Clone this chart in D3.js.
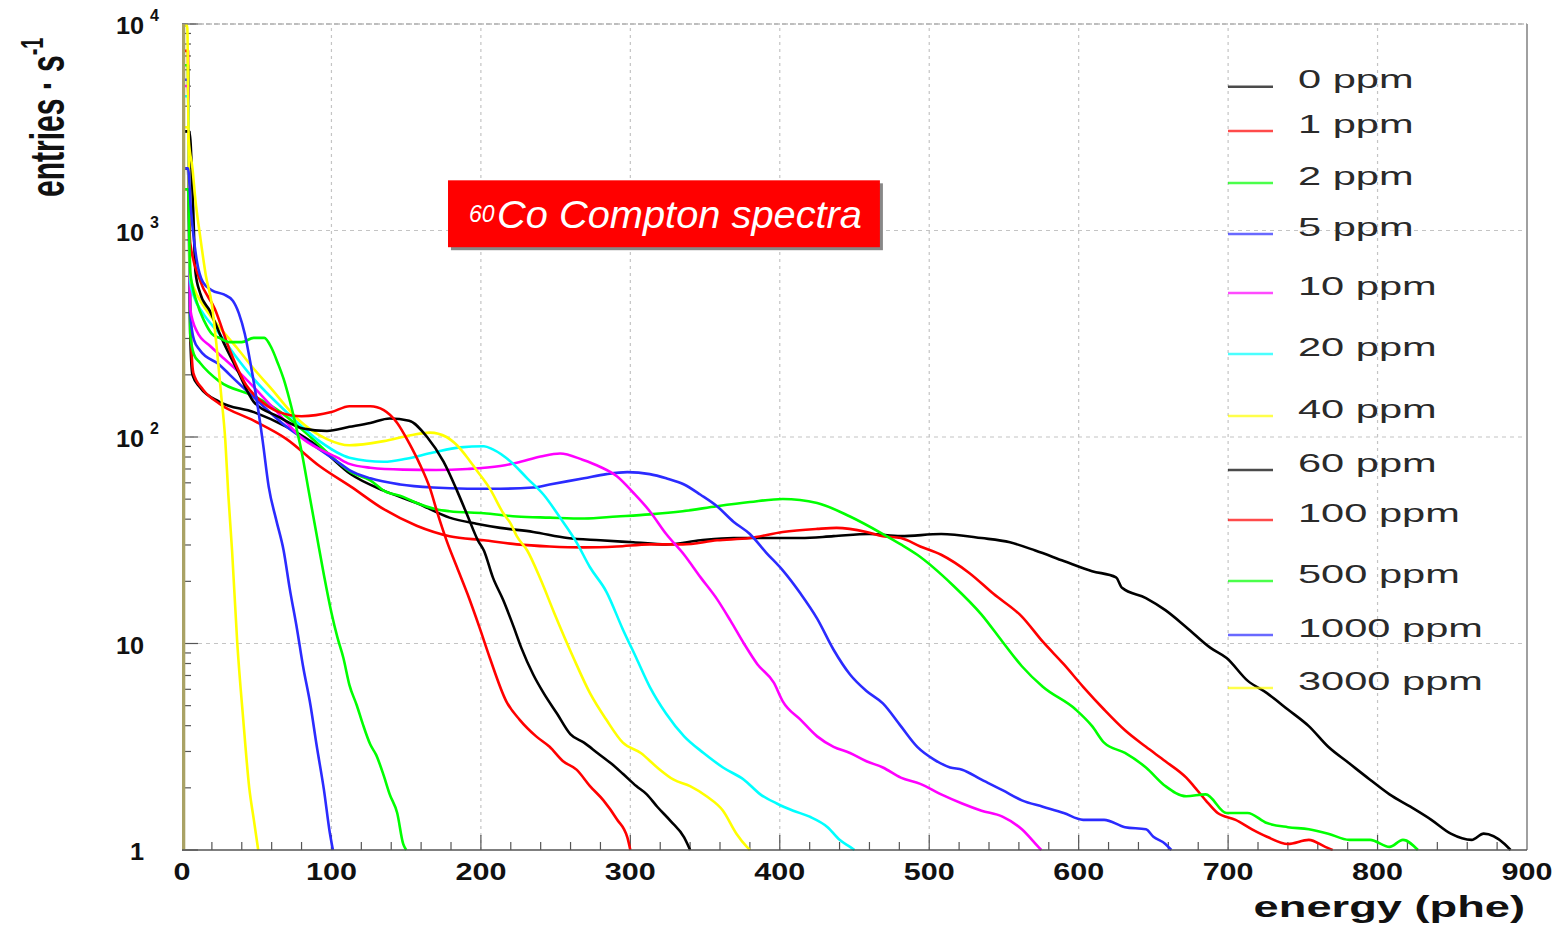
<!DOCTYPE html>
<html><head><meta charset="utf-8">
<script src="https://cdn.jsdelivr.net/npm/d3@7"></script>
<style>
html,body{margin:0;padding:0;background:#fff;}
svg{display:block;}
text{font-family:"Liberation Sans",Arial,sans-serif;}
</style></head>
<body>
<svg id="chart" width="1558" height="929"></svg>
<script>
// ---------------- DATA ----------------
const seriesNames = ["0 ppm","1 ppm","2 ppm","5 ppm","10 ppm","20 ppm","40 ppm","60 ppm","100 ppm","500 ppm","1000 ppm","3000 ppm"];

const ppm0 = [[1.5,1995],[4,1995],[5.5,316],[7,200],[12,174],[25,148],[48,132],[70,112],[92,89],[113,66],[135,55],[157,47.9],[179,40.7],[197,38],[213,36.3],[235,34.7],[258,32.4],[280,31.6],[302,30.9],[324,30.2],[347,31.6],[369,32.4],[391,32.4],[414,32.4],[436,33.1],[460,33.9],[481,33.1],[508,33.9],[535,32.4],[554,30.9],[571,28.2],[590,25.1],[609,22.4],[625,20.9],[629,18.6],[645,16.6],[658,14.5],[672,12.0],[688,9.55],[699,8.51],[713,6.61],[726,5.75],[740,4.79],[754,3.98],[767,3.16],[781,2.63],[795,2.19],[808,1.86],[822,1.62],[836,1.40],[849,1.20],[863,1.12],[871,1.20],[885,1.07],[889,1.0]];
const ppm1 = [[1.5,7413],[4,7413],[5.5,398],[7.6,204],[14,170],[25,145],[48,120],[70,97.7],[92,72.4],[113,57.5],[135,44.7],[157,37.2],[179,33.1],[202,31.6],[224,30.2],[246,29.5],[269,29.2],[291,29.5],[313,30.2],[335,30.2],[358,31.6],[380,32.4],[402,34.7],[425,35.9],[438,36.3],[458,34.7],[469,33.1],[481,32.4],[494,29.5],[508,26.9],[527,21.9],[543,17.4],[562,13.5],[576,10.2],[590,7.94],[603,6.17],[617,4.79],[631,3.80],[645,3.16],[658,2.69],[672,2.24],[677,2.04],[685,1.74],[693,1.51],[705,1.40],[716,1.26],[726,1.16],[740,1.07],[754,1.12],[765,1.035],[770,1.0]];
const ppm2 = [[1.5,6310],[4,6310],[5.5,316],[8,251],[12,229],[25,186],[48,158],[66,132],[86,100],[104,75.9],[113,67.6],[126,61.7],[135,55],[148,51.3],[157,47.9],[170,44.7],[179,43.7],[202,42.7],[224,41.2],[246,40.7],[269,40.3],[291,41.2],[313,42.2],[335,43.7],[358,46.2],[380,48.4],[402,50.1],[425,47.9],[447,41.2],[469,33.9],[481,30.2],[492,26.9],[516,19.1],[535,13.8],[549,10.2],[562,7.76],[576,6.17],[598,4.79],[609,3.98],[617,3.31],[631,2.95],[645,2.51],[658,2.04],[672,1.82],[685,1.86],[699,1.51],[713,1.51],[726,1.35],[740,1.29],[754,1.26],[767,1.20],[781,1.12],[795,1.12],[808,1.035],[817,1.12],[827,1.0]];
const ppm5 = [[1.5,5370],[4,5370],[5.5,398],[8,295],[12,263],[25,224],[32,200],[50,151],[70,112],[90,89.1],[104,75.9],[112,69.2],[126,63.1],[146,58.9],[168,56.9],[191,56.2],[213,56.2],[235,56.9],[246,58.9],[269,63.1],[284,66.1],[298,67.6],[313,66.1],[324,63.1],[336,58.9],[347,52.5],[358,46.2],[369,38.9],[380,33.9],[391,27.5],[402,22.6],[414,17.4],[425,13.2],[436,9.33],[447,7.08],[458,5.89],[469,5.13],[481,3.98],[492,3.16],[503,2.75],[514,2.51],[522,2.45],[535,2.19],[549,1.95],[562,1.74],[576,1.62],[590,1.51],[603,1.40],[617,1.40],[631,1.29],[645,1.26],[650,1.16],[658,1.07],[662,1.0]];
const ppm10 = [[1.5,5012],[4,5012],[5.5,417],[10,324],[19,275],[25,251],[40,200],[60,141],[81,97.7],[104,79.4],[112,74.1],[126,71],[148,69.5],[170,69.2],[191,70.0],[213,72.4],[224,75.0],[240,80.4],[253,83.2],[268,77.6],[280,71.6],[291,64.6],[302,53.7],[313,43.7],[324,33.9],[336,26.9],[347,20.9],[358,16.4],[367,12.9],[376,10],[385,7.94],[396,6.46],[402,5.25],[414,4.27],[425,3.55],[436,3.16],[447,2.95],[458,2.69],[469,2.51],[481,2.24],[494,2.09],[508,1.86],[522,1.68],[535,1.55],[549,1.45],[562,1.26],[573,1.035],[575,1.0]];
const ppm20 = [[1.5,4467],[4,4467],[5.5,562],[8,479],[14,398],[25,316],[35,251],[48,191],[70,132],[92,95.5],[112,79.4],[135,75.9],[150,78.5],[168,84.1],[186,89.1],[202,90.2],[208,87.1],[220,75.9],[231,63.1],[242,52.5],[253,40.7],[264,30.9],[273,23.4],[284,17.8],[295,11.7],[304,8.51],[313,6.17],[324,4.57],[336,3.55],[349,2.95],[362,2.51],[376,2.19],[387,1.86],[398,1.68],[409,1.55],[420,1.45],[432,1.29],[440,1.12],[447,1.035],[450,1.0]];
const ppm40 = [[1.5,3162],[4,3162],[5.5,600],[8,525],[14,437],[23,355],[37,269],[48,214],[59,174],[77,123],[97,97.7],[112,91.2],[135,95.5],[153,102],[166,105],[177,100],[184,91.2],[191,79.4],[197,69.2],[206,56.2],[215,42.7],[220,38],[224,33.1],[231,28.2],[240,20.4],[249,14.1],[262,8.51],[273,5.75],[284,4.27],[295,3.31],[307,2.95],[318,2.51],[329,2.19],[340,2.04],[351,1.82],[362,1.55],[371,1.20],[378,1.035],[380,1.0]];
const ppm60 = [[1.5,3020],[5,3020],[7.5,1259],[9,631],[12,501],[18.7,407],[27.7,288],[36.6,214],[48,148],[64,126],[81,110],[97,107],[112,112],[126,117],[139,123],[152,120],[164,100],[175,75.9],[184,55],[191,41.7],[198,31.6],[202,28.2],[208,20.9],[215,16.2],[222,12],[227,9.55],[235,7.08],[242,5.75],[251,4.57],[260,3.63],[269,3.31],[278,2.95],[287,2.63],[295,2.34],[304,2.04],[311,1.86],[318,1.62],[327,1.38],[336,1.15],[340,1.0]];
const ppm100 = [[1.5,1585],[4,1585],[5.5,871],[12,575],[22,417],[32,263],[43,178],[52,151],[65,132],[80,126],[100,132],[112,141],[126,141],[135,135],[144,117],[152,93.3],[159,74.1],[166,56.2],[171,42.7],[177,31.6],[184,23.4],[191,17.4],[199,12],[206,8.51],[217,5.25],[226,4.27],[237,3.55],[246,3.16],[255,2.69],[264,2.45],[273,2.04],[282,1.74],[291,1.41],[298,1.15],[300,1.0]];
const ppm500 = [[1.5,1585],[4,1585],[5.5,631],[10,447],[15,363],[20,316],[25,302],[32,288],[40,288],[48,302],[55,302],[60,269],[64,229],[68,191],[72,151],[76,115],[80,85.1],[85,53.7],[90,33.9],[95,21.4],[100,14.1],[104,10.7],[108,8.51],[112,6.31],[117,5.01],[121,4.07],[126,3.24],[130,2.88],[135,2.29],[139,1.86],[144,1.51],[148,1.07],[150,1.0]];
const ppm1000 = [[1.5,2000],[4,2000],[6,1259],[10,708],[14,562],[20,513],[28,490],[34,457],[38,398],[42,316],[46,224],[50,151],[54,95.5],[58,57.5],[63,39.8],[68,28.2],[72,18.6],[77,11.7],[81,7.76],[86,5.01],[90,3.24],[95,1.95],[99,1.20],[101,1.0]];
const ppm3000 = [[1.5,9800],[3.5,9800],[4.5,2754],[7,2000],[9,1400],[12,955],[16,603],[20,437],[23,282],[26,166],[29,95.5],[31,52.5],[33.5,28.2],[37,10],[41,4.27],[45,2.0],[48,1.41],[51,1.0]];

// first (pedestal) bin shared by all spectra: [lowEdge, highEdge, value]
const pedestalBin = [0, 2.2, 10000];

const xTickValues = [0,100,200,300,400,500,600,700,800,900];
const yTickValues = [1,10,100,1000,10000];
const yTickBase = ["1","10","10","10","10"];
const yTickExp = ["","","2","3","4"];

// ---------------- STYLE / LAYOUT ----------------
const seriesData = [ppm0,ppm1,ppm2,ppm5,ppm10,ppm20,ppm40,ppm60,ppm100,ppm500,ppm1000,ppm3000];
const seriesColors = ["#000000","#ff0000","#00ff00","#2b2bff","#ff00ff","#00ffff","#ffff00","#000000","#ff0000","#00ff00","#2b2bff","#ffff00"];
const legendRowY = [86.7,131,183,234,293,354,416,470,520,581,635,688];

const svg = d3.select("#chart");
const x = d3.scaleLinear().domain([0,900]).range([182,1527]);
const y = d3.scaleLog().domain([1,10000]).range([850,24]);

// grid
const grid = svg.append("g");
grid.selectAll("line.vg").data(xTickValues.filter(v=>v>0&&v<900)).join("line")
  .attr("x1",d=>x(d)).attr("x2",d=>x(d)).attr("y1",y(1)).attr("y2",y(10000))
  .attr("stroke","#c4c4c4").attr("stroke-width",1.2).attr("stroke-dasharray","3,4");
grid.selectAll("line.hg").data(yTickValues.filter(v=>v>1)).join("line")
  .attr("x1",x(0)).attr("x2",x(900)).attr("y1",d=>y(d)).attr("y2",d=>y(d))
  .attr("stroke","#c4c4c4").attr("stroke-width",1.2).attr("stroke-dasharray","4,4");

// frame
svg.append("line").attr("x1",x(900)).attr("x2",x(900)).attr("y1",y(1)).attr("y2",y(10000))
  .attr("stroke","#a0a0a0").attr("stroke-width",2);
svg.append("line").attr("x1",x(0)).attr("x2",x(900)).attr("y1",y(10000)).attr("y2",y(10000))
  .attr("stroke","#999").attr("stroke-width",1.2).attr("stroke-dasharray","6,2");

// ticks
const ticks = svg.append("g").attr("stroke","#555").attr("stroke-width",1.2);
const xMinor = d3.range(20, 900, 20).filter(v=>v%100!==0);
ticks.selectAll("line.xm").data(xMinor).join("line")
  .attr("x1",d=>x(d)).attr("x2",d=>x(d)).attr("y1",y(1)).attr("y2",y(1)-8);
ticks.selectAll("line.xM").data(xTickValues.filter(v=>v>0&&v<900)).join("line")
  .attr("x1",d=>x(d)).attr("x2",d=>x(d)).attr("y1",y(1)).attr("y2",y(1)-15);
const yMinor = [];
[1,10,100,1000].forEach(dec=>{for(let k=2;k<=9;k++) yMinor.push(dec*k);});
ticks.selectAll("line.ym").data(yMinor).join("line")
  .attr("x1",x(0)).attr("x2",x(0)+9).attr("y1",d=>y(d)).attr("y2",d=>y(d));
ticks.selectAll("line.yM").data(yTickValues).join("line")
  .attr("x1",x(0)).attr("x2",x(0)+16).attr("y1",d=>y(d)).attr("y2",d=>y(d));

// spectra
const clipId = "plotclip";
svg.append("clipPath").attr("id",clipId).append("rect")
  .attr("x",x(0)).attr("y",y(10000)).attr("width",x(900)-x(0)).attr("height",y(1)-y(10000)+1);
const line = d3.line().x(d=>x(d[0])).y(d=>y(d[1])).curve(d3.curveMonotoneX);
svg.append("g").attr("clip-path",`url(#${clipId})`)
  .selectAll("path").data(seriesData).join("path")
  .attr("d",line).attr("fill","none")
  .attr("stroke",(d,i)=>seriesColors[i]).attr("stroke-width",2.6)
  .attr("stroke-linejoin","round");

// pedestal bin band
svg.append("rect").attr("x",x(pedestalBin[0])).attr("width",x(pedestalBin[1])-x(pedestalBin[0]))
  .attr("y",y(pedestalBin[2])).attr("height",y(1)-y(pedestalBin[2]))
  .attr("fill","#a9a265");

// bottom axis line
svg.append("line").attr("x1",x(0)).attr("x2",x(900)).attr("y1",y(1)).attr("y2",y(1))
  .attr("stroke","#555").attr("stroke-width",1.6);

// x tick labels
svg.append("g").selectAll("text").data(xTickValues).join("text")
  .attr("transform",d=>`translate(${x(d)},880) scale(1.3,1)`)
  .attr("text-anchor","middle").attr("font-size",23.5).attr("font-weight","bold")
  .attr("fill","#111").text(d=>d);

// y tick labels
const yl = svg.append("g");
yTickValues.forEach((v,i)=>{
  yl.append("text").attr("transform",`translate(144,${y(v)+10}) scale(1.1,1)`)
    .attr("text-anchor","end").attr("font-size",23).attr("font-weight","bold")
    .attr("fill","#111").text(yTickBase[i]);
  if(yTickExp[i]) yl.append("text").attr("x",150).attr("y",y(v)-3)
    .attr("font-size",16).attr("font-weight","bold").attr("fill","#111").text(yTickExp[i]);
});

// axis titles
svg.append("text").attr("transform","translate(1525,917) scale(1.56,1)")
  .attr("text-anchor","end").attr("font-size",29).attr("font-weight","bold").attr("fill","#111")
  .text("energy (phe)");
const yt = svg.append("text").attr("transform","translate(64,197) scale(1.6,1) rotate(-90)")
  .attr("font-size",30).attr("font-weight","bold").attr("fill","#111");
yt.append("tspan").text("entries \u00b7 s");
yt.append("tspan").attr("font-size",20).attr("dy",-13).text("-1");

// legend
const lg = svg.append("g");
seriesNames.forEach((n,i)=>{
  lg.append("line").attr("x1",1228).attr("x2",1273).attr("y1",legendRowY[i]).attr("y2",legendRowY[i])
    .attr("stroke",seriesColors[i]).attr("stroke-width",2.4).attr("opacity",0.7);
  lg.append("text").attr("transform",`translate(1298,${legendRowY[i]+1.5}) scale(1.6,1)`)
    .attr("font-size",26).attr("fill","#2a2a2a").text(n);
});

// annotation box (placed in data coordinates)
const box = {e0:178, e1:467, vTop:1750, vBot:830};
svg.append("rect").attr("x",x(box.e0)+3).attr("y",y(box.vTop)+3)
  .attr("width",x(box.e1)-x(box.e0)).attr("height",y(box.vBot)-y(box.vTop)).attr("fill","#888");
svg.append("rect").attr("x",x(box.e0)).attr("y",y(box.vTop))
  .attr("width",x(box.e1)-x(box.e0)).attr("height",y(box.vBot)-y(box.vTop)).attr("fill","#ff0000");
svg.append("text").attr("x",x(box.e0)+21).attr("y",y(box.vTop)+42)
  .attr("font-size",23).attr("font-style","italic").attr("fill","#fff").text("60");
svg.append("text").attr("x",x(box.e0)+49).attr("y",y(box.vTop)+48)
  .attr("font-size",38).attr("font-style","italic").attr("fill","#fff")
  .attr("textLength",365).attr("lengthAdjust","spacingAndGlyphs").text("Co Compton spectra");
</script>
</body></html>
